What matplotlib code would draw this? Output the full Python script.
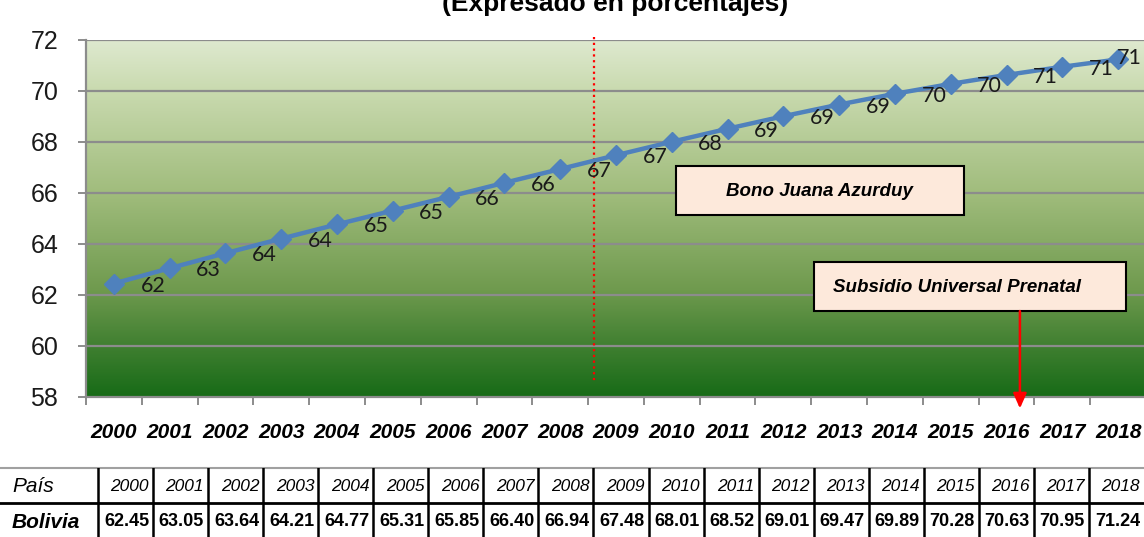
import numpy as np
import matplotlib.pyplot as plt
from matplotlib.colors import LinearSegmentedColormap
from matplotlib.patches import Rectangle

# data
years = ["2000", "2001", "2002", "2003", "2004", "2005", "2006", "2007", "2008", "2009",
         "2010", "2011", "2012", "2013", "2014", "2015", "2016", "2017", "2018"]
bolivia = [62.45, 63.05, 63.64, 64.21, 64.77, 65.31, 65.85, 66.40, 66.94, 67.48,
           68.01, 68.52, 69.01, 69.47, 69.89, 70.28, 70.63, 70.95, 71.24]
yticks = [58, 60, 62, 64, 66, 68, 70, 72]
title = "(Expresado en porcentajes)"
country = "Bolivia"

W, H = 1144, 537
arial = ['Liberation Sans', 'DejaVu Sans']

fig = plt.figure(figsize=(W / 100, H / 100), dpi=100)
fig.patch.set_facecolor("white")

x = np.arange(len(years))
ax = fig.add_axes([86 / W, (H - 397) / H, 1060 / W, 357 / H])
ax.set_xlim(-0.5, len(years) - 0.5)
ax.set_ylim(58, 72)

# gradient background
cmap = LinearSegmentedColormap.from_list(
    "bg", [(0.0, "#176b17"), (0.14, "#3f7f30"), (0.3, "#6f9a4e"),
           (0.57, "#a0bc7c"), (0.86, "#c9daaf"), (1.0, "#dee9cf")])
grad = np.linspace(0, 1, 256).reshape(-1, 1)
ax.imshow(grad, cmap=cmap, aspect="auto", origin="lower",
          extent=[-0.5, len(years) - 0.5, 58, 72], zorder=0)

for yv in yticks[1:]:
    ax.axhline(yv, color="#8c8c8c", lw=1.6, zorder=1)

ax.plot(x, bolivia, color="#4f81bd", lw=3.2, marker="D", ms=10.5, zorder=3)

for i, v in enumerate(bolivia):
    dx, dy = (28, -1.5) if i < len(bolivia) - 1 else (8, 1)
    ax.annotate(f"{v:.0f}", (i, v), xytext=(dx, dy), textcoords="offset points",
                ha="center", va="center", fontsize=15.5, color="#1a1a1a",
                family=["Lato", "DejaVu Sans"], zorder=4, annotation_clip=False)

# red dotted line between 2008 and 2009
ax.plot([8.6, 8.6], [72.12, 58.6], color="red", lw=1.6, ls=(0, (1, 1.6)),
        clip_on=False, zorder=2)

# annotation boxes
ax.add_patch(Rectangle((10.07, 65.14), 5.16, 1.92, facecolor="#fde9db",
                       edgecolor="black", lw=1.5, zorder=5))
ax.text(12.65, 66.04, "Bono Juana Azurduy", ha="center", va="center", fontsize=13.5,
        style="italic", weight="bold", family=arial, zorder=6)
ax.add_patch(Rectangle((12.55, 61.37), 5.59, 1.92, facecolor="#fde9db",
                       edgecolor="black", lw=1.5, zorder=5, clip_on=False))
ax.text(15.12, 62.29, "Subsidio Universal Prenatal", ha="center", va="center",
        fontsize=13.5, style="italic", weight="bold", family=arial, zorder=6)
ax.annotate("", xy=(16.24, 57.55), xytext=(16.24, 61.37),
            arrowprops=dict(arrowstyle="-|>,head_length=0.9,head_width=0.4",
                            color="red", lw=1.8, shrinkA=0, shrinkB=0),
            annotation_clip=False, zorder=6)

# axes styling
for s in ["top", "right"]:
    ax.spines[s].set_visible(False)
for s in ["left", "bottom"]:
    ax.spines[s].set_color("#8c8c8c")
    ax.spines[s].set_linewidth(1.6)

ax.set_yticks(yticks)
ax.set_yticklabels([str(t) for t in yticks], fontsize=18, family=arial, color="#1a1a1a")
ax.tick_params(axis="y", length=6, width=1.4, color="#8c8c8c", pad=14)

ax.set_xticks(x)
ax.set_xticklabels(years, fontsize=15, style="italic", weight="bold", family=arial)
ax.set_xticks(np.arange(len(years) + 1) - 0.5, minor=True)
ax.tick_params(axis="x", which="major", length=0, pad=19)
ax.tick_params(axis="x", which="minor", length=6, width=1.4, color="#8c8c8c")

fig.text(615 / W, 1 - 11 / H, title, ha="center", va="baseline", fontsize=19,
         weight="bold", family=arial)

# data table under the chart
tax = fig.add_axes([0, 0, 1, 69 / H])
tax.set_xlim(0, W)
tax.set_ylim(69, 0)
tax.axis("off")
col0 = 98
colw = (W - col0) / len(years)
edges = [col0 + i * colw for i in range(len(years) + 1)]

tax.plot([0, W], [0, 0], color="#a0a0a0", lw=1.5, clip_on=False)
tax.plot([0, W], [35, 35], color="black", lw=2)
for e in edges[:-1]:
    tax.plot([e, e], [0, 69], color="black", lw=1.8)

tax.text(12, 18.5, "País", ha="left", va="center", fontsize=15, style="italic", family=arial)
tax.text(12, 54, country, ha="left", va="center", fontsize=15, style="italic",
         weight="bold", family=arial)
for i, (yr, v) in enumerate(zip(years, bolivia)):
    tax.text(edges[i + 1] - 4, 18.5, yr, ha="right", va="center", fontsize=12.5,
             style="italic", family=arial)
    tax.text(edges[i + 1] - 4, 54, f"{v:.2f}", ha="right", va="center", fontsize=13,
             weight="bold", family=arial)

fig.savefig("out.png", dpi=100)
